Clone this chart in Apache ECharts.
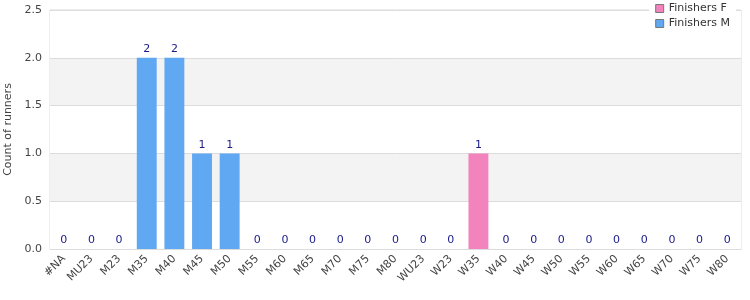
<!DOCTYPE html>
<html><head><meta charset="utf-8">
<script src="https://cdn.jsdelivr.net/npm/echarts@6/dist/echarts.min.js"></script>
<style>html,body{margin:0;padding:0;background:#fff}#c{width:750px;height:300px}</style>
</head><body><div id="c"></div>
<script>
const categories = ['#NA','MU23','M23','M35','M40','M45','M50','M55','M60','M65','M70','M75','M80','WU23','W23','W35','W40','W45','W50','W55','W60','W65','W70','W75','W80'];
const finishersF = [0,0,0,0,0,0,0,0,0,0,0,0,0,0,0,1,0,0,0,0,0,0,0,0,0];
const finishersM = [0,0,0,2,2,1,1,0,0,0,0,0,0,0,0,0,0,0,0,0,0,0,0,0,0];
const yTicks = [0, 0.5, 1.0, 1.5, 2.0, 2.5];

const totals = categories.map((_, i) => finishersF[i] + finishersM[i]);
const chart = echarts.init(document.getElementById('c'), null, {renderer: 'canvas'});
const font = 'DejaVu Sans';
chart.setOption({
  animation: false,
  textStyle: {fontFamily: font},
  grid: {left: 50, right: 9, top: 10, bottom: 51, show: true, borderColor: '#dcdcdc', borderWidth: 1, z: 0,
         containLabel: false, outerBoundsMode: 'none'},
  legend: {
    data: ['Finishers F', 'Finishers M'],
    orient: 'vertical', right: 14, top: 0,
    backgroundColor: '#fff', padding: [3, 6, 3, 6],
    itemWidth: 8, itemHeight: 8, itemGap: 4,
    textStyle: {fontSize: 11, color: '#333', fontFamily: font},
    icon: 'rect', z: 10,
    itemStyle: {borderColor: '#777', borderWidth: 1}
  },
  xAxis: {
    type: 'category', data: categories,
    axisLine: {show: true, lineStyle: {color: '#dcdcdc'}},
    axisTick: {show: false},
    axisLabel: {rotate: 45, interval: 0, fontSize: 11, color: '#444', fontFamily: font, margin: 8}
  },
  yAxis: {
    type: 'value', min: yTicks[0], max: yTicks[yTicks.length-1], interval: 0.5,
    name: 'Count of runners', nameLocation: 'middle', nameGap: 36,
    nameTextStyle: {fontSize: 11, color: '#444', fontFamily: font},
    axisLine: {show: false}, axisTick: {show: false},
    axisLabel: {fontSize: 11, color: '#444', fontFamily: font, formatter: v => v.toFixed(1)},
    splitLine: {lineStyle: {color: '#dcdcdc'}},
    splitArea: {show: true, areaStyle: {color: ['#ffffff', '#f3f3f3']}}
  },
  series: [
    {name: 'Finishers F', type: 'bar', stack: 's', data: finishersF, barWidth: '72%', itemStyle: {color: '#f283bc'}},
    {name: 'Finishers M', type: 'bar', stack: 's', data: finishersM, barWidth: '72%', itemStyle: {color: '#61a8f3'}},
    {name: 'total', type: 'bar', stack: 's', data: totals.map(() => 0), barWidth: '72%',
     label: {show: true, position: 'top', distance: 3, color: '#1a1a8a', fontSize: 11, fontFamily: font,
             formatter: p => String(totals[p.dataIndex])},
     itemStyle: {color: 'transparent'}}
  ]
});
</script></body></html>
